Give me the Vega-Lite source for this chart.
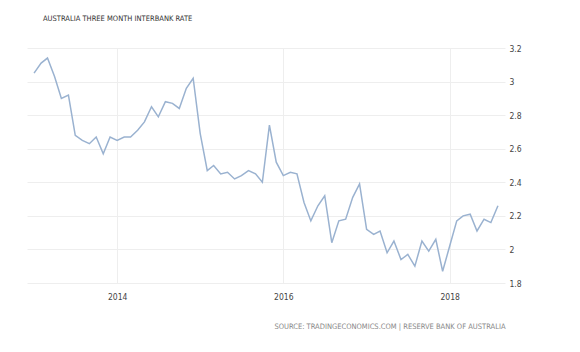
{
  "$schema": "https://vega.github.io/schema/vega-lite/v6.json",
  "autosize": {"type": "none"},
  "width": 478,
  "height": 235,
  "padding": {"left": 27, "top": 48, "right": 75, "bottom": 69},
  "background": "white",
  "config": {
    "view": {"stroke": null},
    "font": "Liberation Sans Narrow, DejaVu Sans Condensed, sans-serif"
  },
  "title": {
    "text": "AUSTRALIA THREE MONTH INTERBANK RATE",
    "anchor": "start",
    "frame": "group",
    "dx": 16,
    "offset": 22,
    "fontSize": 7.5,
    "fontWeight": "normal",
    "color": "#333333",
    "font": "Liberation Sans Narrow, DejaVu Sans Condensed, sans-serif"
  },
  "data": {
    "values": [
      {"date": "2013-01-01T00:00:00", "rate": 3.05},
      {"date": "2013-02-01T00:00:00", "rate": 3.11},
      {"date": "2013-03-01T00:00:00", "rate": 3.14},
      {"date": "2013-04-01T00:00:00", "rate": 3.03},
      {"date": "2013-05-01T00:00:00", "rate": 2.90},
      {"date": "2013-06-01T00:00:00", "rate": 2.92},
      {"date": "2013-07-01T00:00:00", "rate": 2.68},
      {"date": "2013-08-01T00:00:00", "rate": 2.65},
      {"date": "2013-09-01T00:00:00", "rate": 2.63},
      {"date": "2013-10-01T00:00:00", "rate": 2.67},
      {"date": "2013-11-01T00:00:00", "rate": 2.57},
      {"date": "2013-12-01T00:00:00", "rate": 2.67},
      {"date": "2014-01-01T00:00:00", "rate": 2.65},
      {"date": "2014-02-01T00:00:00", "rate": 2.67},
      {"date": "2014-03-01T00:00:00", "rate": 2.67},
      {"date": "2014-04-01T00:00:00", "rate": 2.71},
      {"date": "2014-05-01T00:00:00", "rate": 2.76},
      {"date": "2014-06-01T00:00:00", "rate": 2.85},
      {"date": "2014-07-01T00:00:00", "rate": 2.79},
      {"date": "2014-08-01T00:00:00", "rate": 2.88},
      {"date": "2014-09-01T00:00:00", "rate": 2.87},
      {"date": "2014-10-01T00:00:00", "rate": 2.84},
      {"date": "2014-11-01T00:00:00", "rate": 2.96},
      {"date": "2014-12-01T00:00:00", "rate": 3.02},
      {"date": "2015-01-01T00:00:00", "rate": 2.69},
      {"date": "2015-02-01T00:00:00", "rate": 2.47},
      {"date": "2015-03-01T00:00:00", "rate": 2.50},
      {"date": "2015-04-01T00:00:00", "rate": 2.45},
      {"date": "2015-05-01T00:00:00", "rate": 2.46},
      {"date": "2015-06-01T00:00:00", "rate": 2.42},
      {"date": "2015-07-01T00:00:00", "rate": 2.44},
      {"date": "2015-08-01T00:00:00", "rate": 2.47},
      {"date": "2015-09-01T00:00:00", "rate": 2.45},
      {"date": "2015-10-01T00:00:00", "rate": 2.40},
      {"date": "2015-11-01T00:00:00", "rate": 2.74},
      {"date": "2015-12-01T00:00:00", "rate": 2.52},
      {"date": "2016-01-01T00:00:00", "rate": 2.44},
      {"date": "2016-02-01T00:00:00", "rate": 2.46},
      {"date": "2016-03-01T00:00:00", "rate": 2.45},
      {"date": "2016-04-01T00:00:00", "rate": 2.28},
      {"date": "2016-05-01T00:00:00", "rate": 2.17},
      {"date": "2016-06-01T00:00:00", "rate": 2.26},
      {"date": "2016-07-01T00:00:00", "rate": 2.32},
      {"date": "2016-08-01T00:00:00", "rate": 2.04},
      {"date": "2016-09-01T00:00:00", "rate": 2.17},
      {"date": "2016-10-01T00:00:00", "rate": 2.18},
      {"date": "2016-11-01T00:00:00", "rate": 2.31},
      {"date": "2016-12-01T00:00:00", "rate": 2.39},
      {"date": "2017-01-01T00:00:00", "rate": 2.12},
      {"date": "2017-02-01T00:00:00", "rate": 2.09},
      {"date": "2017-03-01T00:00:00", "rate": 2.11},
      {"date": "2017-04-01T00:00:00", "rate": 1.98},
      {"date": "2017-05-01T00:00:00", "rate": 2.05},
      {"date": "2017-06-01T00:00:00", "rate": 1.94},
      {"date": "2017-07-01T00:00:00", "rate": 1.97},
      {"date": "2017-08-01T00:00:00", "rate": 1.90},
      {"date": "2017-09-01T00:00:00", "rate": 2.05},
      {"date": "2017-10-01T00:00:00", "rate": 1.99},
      {"date": "2017-11-01T00:00:00", "rate": 2.06},
      {"date": "2017-12-01T00:00:00", "rate": 1.87},
      {"date": "2018-01-01T00:00:00", "rate": 2.02},
      {"date": "2018-02-01T00:00:00", "rate": 2.17},
      {"date": "2018-03-01T00:00:00", "rate": 2.20},
      {"date": "2018-04-01T00:00:00", "rate": 2.21},
      {"date": "2018-05-01T00:00:00", "rate": 2.11},
      {"date": "2018-06-01T00:00:00", "rate": 2.18},
      {"date": "2018-07-01T00:00:00", "rate": 2.16},
      {"date": "2018-08-01T00:00:00", "rate": 2.26}
    ]
  },
  "mark": {"type": "line", "color": "#9ab2d0", "strokeWidth": 1.5},
  "encoding": {
    "x": {
      "field": "date",
      "type": "temporal",
      "scale": {"domain": [{"year": 2012, "month": 12, "date": 1}, {"year": 2018, "month": 9, "date": 1}]},
      "axis": {
        "values": [{"year": 2014, "month": 1, "date": 1}, {"year": 2016, "month": 1, "date": 1}, {"year": 2018, "month": 1, "date": 1}],
        "format": "%Y",
        "grid": true,
        "gridColor": "#eeeeee",
        "ticks": false,
        "domain": false,
        "labelFontSize": 8.5,
        "labelColor": "#444444",
        "labelPadding": 9,
        "title": "SOURCE: TRADINGECONOMICS.COM | RESERVE BANK OF AUSTRALIA",
        "titleAnchor": "end",
        "titleFontSize": 7.5,
        "titleFontWeight": "normal",
        "titleColor": "#888888",
        "titlePadding": 22
      }
    },
    "y": {
      "field": "rate",
      "type": "quantitative",
      "scale": {"domain": [1.8, 3.2], "nice": false, "zero": false},
      "axis": {
        "orient": "right",
        "values": [1.8, 2.0, 2.2, 2.4, 2.6, 2.8, 3.0, 3.2],
        "format": "~g",
        "grid": true,
        "gridColor": "#eeeeee",
        "ticks": false,
        "domain": false,
        "labelFontSize": 8.5,
        "labelColor": "#444444",
        "labelPadding": 4,
        "title": null
      }
    }
  }
}
